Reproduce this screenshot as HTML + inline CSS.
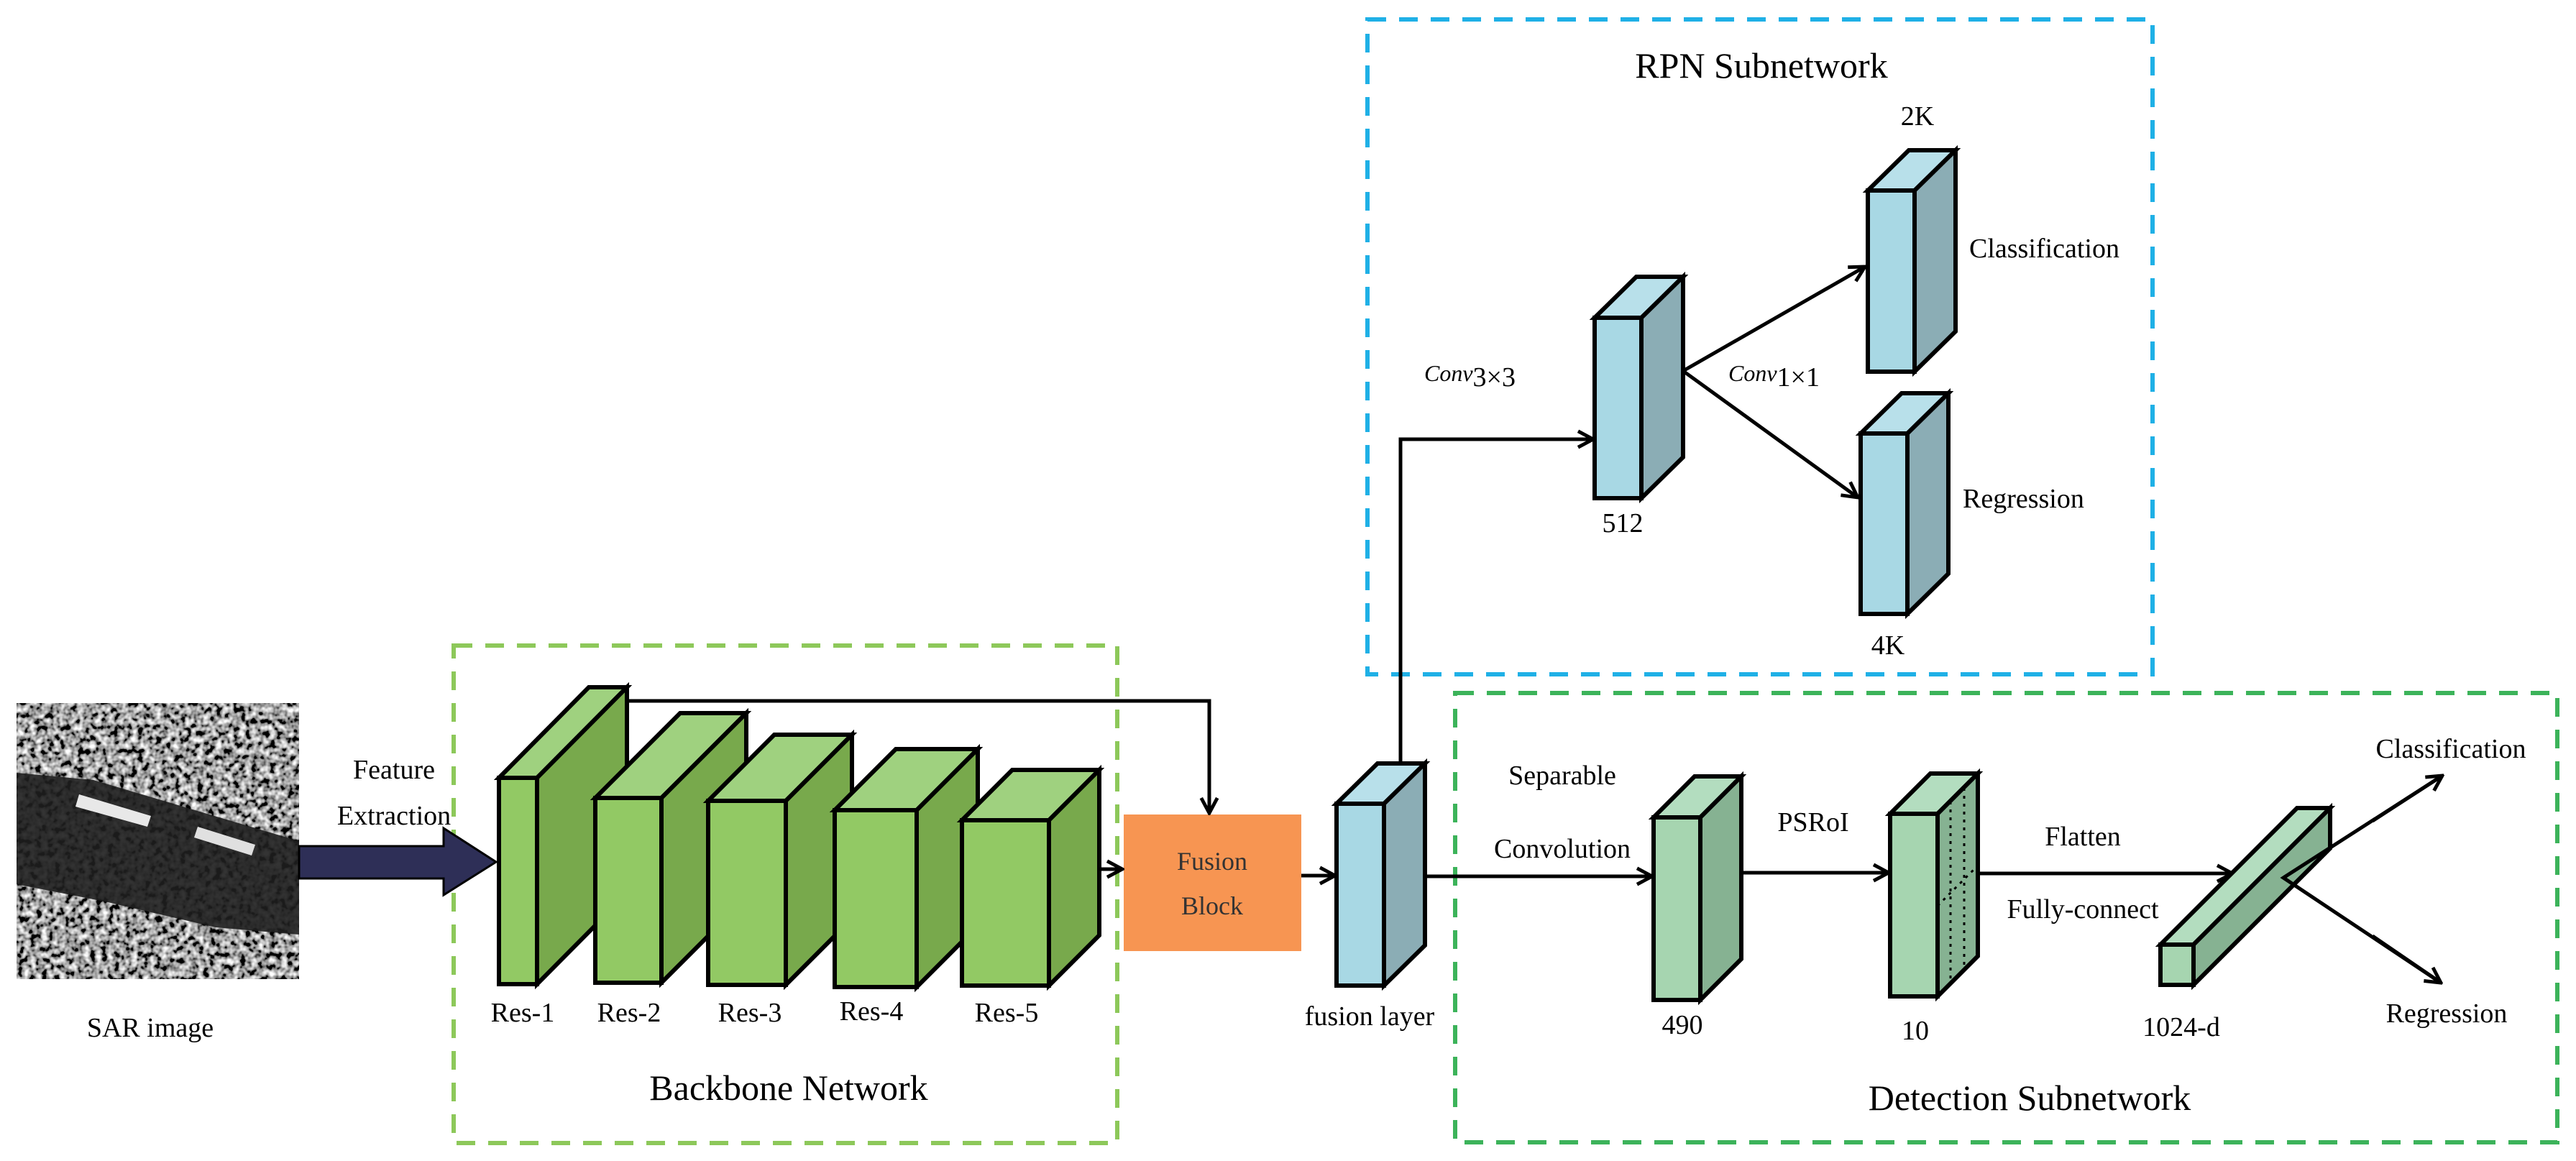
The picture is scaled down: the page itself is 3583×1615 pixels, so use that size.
<!DOCTYPE html>
<html><head><meta charset="utf-8"><style>
html,body{margin:0;padding:0;background:#fff}
svg{display:block}
text{font-family:"Liberation Serif","DejaVu Serif",serif;fill:#000}
</style></head><body>
<svg width="3583" height="1615" viewBox="0 0 3583 1615" xmlns="http://www.w3.org/2000/svg">
<defs>
<marker id="ah" viewBox="0 0 20 20" refX="18" refY="10" markerWidth="28" markerHeight="28" markerUnits="userSpaceOnUse" orient="auto">
<path d="M3,2 L18,10 L3,18" fill="none" stroke="#000" stroke-width="3.5"/>
</marker>
<filter id="noise" x="0" y="0" width="100%" height="100%">
<feTurbulence type="fractalNoise" baseFrequency="0.12" numOctaves="2" seed="4" result="t"/>
<feColorMatrix in="t" type="matrix" values="2.2 0 0 0 -0.75  2.2 0 0 0 -0.75  2.2 0 0 0 -0.75  0 0 0 0 1"/>
</filter>
<clipPath id="sarclip"><rect x="23" y="978" width="393" height="384"/></clipPath>
</defs>

<!-- SAR image -->
<g clip-path="url(#sarclip)">
<rect x="23" y="978" width="393" height="384" fill="#222"/>
<rect x="23" y="978" width="393" height="384" fill="#555" filter="url(#noise)"/>
<polygon points="23,1075 130,1085 416,1170 416,1300 300,1290 150,1255 23,1230" fill="#1e1e1e" opacity="0.9"/>
<polygon points="110,1105 210,1135 205,1150 105,1122" fill="#e8e8e8"/>
<polygon points="275,1150 355,1175 350,1190 270,1165" fill="#e0e0e0"/>
</g>

<!-- Dashed boxes -->
<rect x="631" y="898" width="923" height="692" fill="none" stroke="#8dc85a" stroke-width="6" stroke-dasharray="26,18"/>
<rect x="1902" y="27" width="1092" height="911" fill="none" stroke="#1fb0e6" stroke-width="6" stroke-dasharray="26,18"/>
<rect x="2024" y="964" width="1533" height="625" fill="none" stroke="#3cb35a" stroke-width="6" stroke-dasharray="26,18"/>

<!-- Big arrow -->
<polygon points="416,1177 617,1177 617,1152 690,1199 617,1245 617,1222 416,1222" fill="#2e2f57" stroke="#000" stroke-width="3"/>

<g stroke="#000" stroke-width="6" stroke-linejoin="miter">
<g>
<polygon points="694,1082 747,1082 872,956 819,956" fill="#9fd17f"/>
<polygon points="747,1082 872,956 872,1243 747,1369" fill="#78a94c"/>
<rect x="694" y="1082" width="53" height="287" fill="#92c964"/>
</g>
<g>
<polygon points="828,1110 920,1110 1038,992 946,992" fill="#9fd17f"/>
<polygon points="920,1110 1038,992 1038,1249 920,1367" fill="#78a94c"/>
<rect x="828" y="1110" width="92" height="257" fill="#92c964"/>
</g>
<g>
<polygon points="985,1114 1093,1114 1185,1022 1077,1022" fill="#9fd17f"/>
<polygon points="1093,1114 1185,1022 1185,1278 1093,1370" fill="#78a94c"/>
<rect x="985" y="1114" width="108" height="256" fill="#92c964"/>
</g>
<g>
<polygon points="1161,1127 1275,1127 1360,1042 1246,1042" fill="#9fd17f"/>
<polygon points="1275,1127 1360,1042 1360,1288 1275,1373" fill="#78a94c"/>
<rect x="1161" y="1127" width="114" height="246" fill="#92c964"/>
</g>
<g>
<polygon points="1338,1141 1459,1141 1529,1071 1408,1071" fill="#9fd17f"/>
<polygon points="1459,1141 1529,1071 1529,1301 1459,1371" fill="#78a94c"/>
<rect x="1338" y="1141" width="121" height="230" fill="#92c964"/>
</g>
</g>

<!-- Fusion block -->
<rect x="1563" y="1133" width="247" height="190" fill="#f79552"/>
<text x="1686" y="1210" font-size="36" text-anchor="middle" style="fill:#333">Fusion</text>
<text x="1686" y="1272" font-size="36" text-anchor="middle" style="fill:#333">Block</text>

<!-- connectors -->
<g stroke="#000" stroke-width="5" fill="none">
<polyline points="872,975 1682,975 1682,1131" marker-end="url(#ah)"/>
<line x1="1529" y1="1209" x2="1561" y2="1209" marker-end="url(#ah)"/>
<line x1="1810" y1="1218" x2="1857" y2="1218" marker-end="url(#ah)"/>
<polyline points="1948,1062 1948,611 2216,611" marker-end="url(#ah)"/>
<line x1="1982" y1="1219" x2="2298" y2="1219" marker-end="url(#ah)"/>
<line x1="2422" y1="1214" x2="2627" y2="1214" marker-end="url(#ah)"/>
<line x1="2751" y1="1215" x2="3105" y2="1215" marker-end="url(#ah)"/>
<line x1="2341" y1="516" x2="2594" y2="371" marker-end="url(#ah)"/>
<line x1="2341" y1="516" x2="2584" y2="692" marker-end="url(#ah)"/>
</g>

<g stroke="#000" stroke-width="6">
<polygon points="1859,1118 1925,1118 1982,1062 1916,1062" fill="#b8e0ea"/>
<polygon points="1925,1118 1982,1062 1982,1315 1925,1371" fill="#8badb5"/>
<rect x="1859" y="1118" width="66" height="253" fill="#a8d8e4"/>
<polygon points="2218,442 2283,442 2341,385 2276,385" fill="#b8e0ea"/>
<polygon points="2283,442 2341,385 2341,636 2283,693" fill="#8badb5"/>
<rect x="2218" y="442" width="65" height="251" fill="#a8d8e4"/>
<polygon points="2598,265 2663,265 2720,209 2655,209" fill="#b8e0ea"/>
<polygon points="2663,265 2720,209 2720,461 2663,517" fill="#8badb5"/>
<rect x="2598" y="265" width="65" height="252" fill="#a8d8e4"/>
<polygon points="2588,603 2653,603 2710,547 2645,547" fill="#b8e0ea"/>
<polygon points="2653,603 2710,547 2710,798 2653,854" fill="#8badb5"/>
<rect x="2588" y="603" width="65" height="251" fill="#a8d8e4"/>
<polygon points="2300,1137 2365,1137 2422,1080 2357,1080" fill="#b3ddbf"/>
<polygon points="2365,1137 2422,1080 2422,1334 2365,1391" fill="#86b292"/>
<rect x="2300" y="1137" width="65" height="254" fill="#a6d5b0"/>
<polygon points="2629,1132 2695,1132 2751,1076 2685,1076" fill="#b3ddbf"/>
<polygon points="2695,1132 2751,1076 2751,1330 2695,1386" fill="#86b292"/>
<rect x="2629" y="1132" width="66" height="254" fill="#a6d5b0"/>
</g>
<g stroke="#000" stroke-width="3" stroke-dasharray="4,7" fill="none">
<line x1="2713" y1="1115" x2="2713" y2="1368"/>
<line x1="2732" y1="1096" x2="2732" y2="1350"/>
<line x1="2695" y1="1260" x2="2751" y2="1204"/>
</g>
<g stroke="#000" stroke-width="6">
<polygon points="3005,1314 3051,1314 3241,1124 3195,1124" fill="#b3ddbf"/>
<polygon points="3051,1314 3241,1124 3241,1180 3051,1370" fill="#86b292"/>
<rect x="3005" y="1314" width="46" height="56" fill="#a6d5b0"/>
</g>
<g stroke="#000" stroke-width="5" fill="none">
<polyline points="3397,1079 3176,1221 3395,1367" stroke-linejoin="miter"/>
<line x1="3300" y1="1142" x2="3397" y2="1079" marker-end="url(#ah)"/>
<line x1="3300" y1="1302" x2="3395" y2="1367" marker-end="url(#ah)"/>
</g>

<!-- labels -->
<g font-size="38" text-anchor="middle">
<text x="548" y="1083">Feature</text>
<text x="548" y="1147">Extraction</text>
<text x="209" y="1442">SAR image</text>
<text x="727" y="1421">Res-1</text>
<text x="875" y="1421">Res-2</text>
<text x="1043" y="1421">Res-3</text>
<text x="1212" y="1419">Res-4</text>
<text x="1400" y="1421">Res-5</text>
<text x="1905" y="1426">fusion layer</text>
<text x="2173" y="1091">Separable</text>
<text x="2173" y="1193">Convolution</text>
<text x="2340" y="1438">490</text>
<text x="2522" y="1156">PSRoI</text>
<text x="2664" y="1446">10</text>
<text x="2897" y="1176">Flatten</text>
<text x="2897" y="1277">Fully-connect</text>
<text x="3034" y="1441">1024-d</text>
<text x="3409" y="1054">Classification</text>
<text x="3403" y="1422">Regression</text>
<text x="2257" y="740">512</text>
<text x="2667" y="174">2K</text>
<text x="2626" y="910">4K</text>
</g>
<g font-size="38">
<text x="2739" y="358">Classification</text>
<text x="2730" y="706">Regression</text>
<text x="1981" y="530" font-size="32"><tspan font-style="italic">Conv</tspan><tspan font-size="38" dy="7">3×3</tspan></text>
<text x="2404" y="530" font-size="32"><tspan font-style="italic">Conv</tspan><tspan font-size="38" dy="7">1×1</tspan></text>
</g>
<g font-size="50" text-anchor="middle">
<text x="1097" y="1530">Backbone Network</text>
<text x="2450" y="108">RPN Subnetwork</text>
<text x="2823" y="1544">Detection Subnetwork</text>
</g>
</svg>
</body></html>
